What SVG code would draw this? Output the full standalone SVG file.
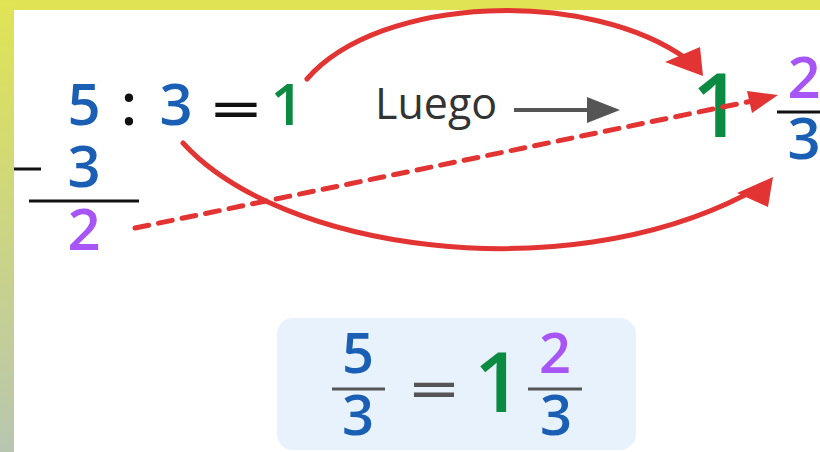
<svg xmlns="http://www.w3.org/2000/svg" width="820" height="452" viewBox="0 0 820 452">
<defs>
<linearGradient id="side" x1="0" y1="0" x2="0" y2="1">
<stop offset="0" stop-color="#e0e454"/>
<stop offset="1" stop-color="#b8c6b0"/>
</linearGradient>
<style>
.d{font-family:"Open Sans","Noto Sans",sans-serif;font-weight:600;text-anchor:middle}
.b{fill:#1a5fb4}.g{fill:#0b8a42}.p{fill:#a855f7}.k{fill:#111}
.red{fill:none;stroke:#e33434;stroke-width:5;stroke-linecap:round}
.ah{fill:#e33434}
</style>
</defs>
<rect width="820" height="452" fill="#ffffff"/>
<rect x="0" y="0" width="820" height="10" fill="#e0e454"/>
<rect x="0" y="0" width="14" height="452" fill="url(#side)"/>

<g id="division">
<text class="d b" x="84" y="125" font-size="58">5</text>
<text class="d k" x="129" y="125" font-size="58">:</text>
<text class="d b" x="176" y="125" font-size="58">3</text>
<text class="d k" x="0" y="0" font-size="50" font-weight="400" transform="translate(236,128) scale(1.75,1)">=</text>
<text class="d g" x="287" y="125" font-size="58">1</text>
</g>

<g id="subtraction">
<line x1="14" y1="169" x2="41" y2="169" stroke="#111" stroke-width="3"/>
<text class="d b" x="84" y="187" font-size="58">3</text>
<line x1="29" y1="201" x2="139" y2="201" stroke="#111" stroke-width="3"/>
<text class="d p" x="84" y="250" font-size="58">2</text>
</g>

<g id="luego">
<text x="375" y="119" font-family="Open Sans,Noto Sans,sans-serif" font-size="43" fill="#333">Luego</text>
</g>

<g id="result">
<text class="d g" x="717" y="137" font-size="88" font-weight="700">1</text>
<text class="d p" x="804" y="98" font-size="58">2</text>
<line x1="777" y1="112" x2="820" y2="112" stroke="#111" stroke-width="3"/>
<text class="d b" x="804" y="159" font-size="58">3</text>
</g>

<g id="connectors">
<line x1="514" y1="110" x2="592" y2="110" stroke="#555" stroke-width="4"/>
<polygon points="587,97 620,110 587,123" fill="#555"/>
<path class="red" d="M307,79 C380,-5 590,-12 688,60"/>
<polygon class="ah" points="703,76 665,62 700,47"/>
<path class="red" d="M183,143 C280,250 560,290 745,195"/>
<polygon class="ah" points="773,177 737,193 768,207"/>
<path class="red" d="M135,228 L752,101" stroke-dasharray="14,10" stroke-linecap="butt"/>
<polygon class="ah" points="778,95 747,91 752,113"/>
</g>

<g id="summary">
<rect x="277" y="318" width="359" height="132" rx="16" fill="#e8f2fd"/>
<text class="d b" x="358" y="373" font-size="56">5</text>
<line x1="332" y1="389" x2="385" y2="389" stroke="#555" stroke-width="3"/>
<text class="d b" x="358" y="435" font-size="56">3</text>
<text class="d" x="0" y="0" font-size="50" font-weight="400" fill="#555" transform="translate(434,408) scale(1.7,1)">=</text>
<text class="d g" x="498" y="412" font-size="84" font-weight="700">1</text>
<text class="d p" x="555" y="373" font-size="56">2</text>
<line x1="528" y1="389" x2="582" y2="389" stroke="#555" stroke-width="3"/>
<text class="d b" x="556" y="435" font-size="56">3</text>
</g>
</svg>
